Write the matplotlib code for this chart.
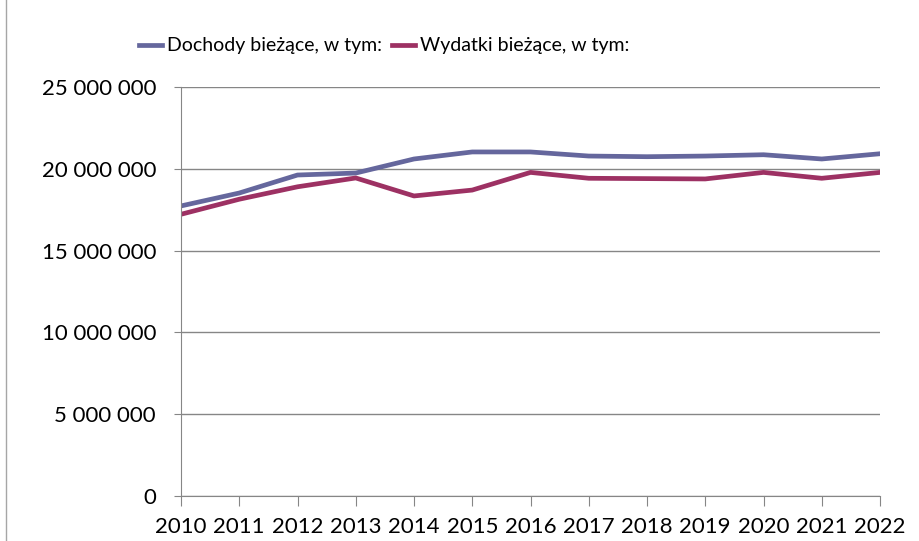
import matplotlib.pyplot as plt
from matplotlib.ticker import FuncFormatter
from matplotlib.lines import Line2D

years = list(range(2010, 2023))
dochody = [17.73, 18.52, 19.62, 19.74, 20.60, 21.03, 21.03,
           20.78, 20.74, 20.78, 20.86, 20.60, 20.92]
wydatki = [17.22, 18.14, 18.90, 19.44, 18.34, 18.70, 19.78,
           19.42, 19.40, 19.38, 19.78, 19.42, 19.78]
labels = ['Dochody bieżące, w tym:', 'Wydatki bieżące, w tym:']

plt.rcParams['font.family'] = ['Lato', 'DejaVu Sans']

fig = plt.figure(figsize=(9.19, 5.41), dpi=100)
ax = fig.add_axes([181 / 919, 45 / 541, 699 / 919, 409 / 541])

ax.plot(years, [v * 1e6 for v in dochody], color='#65679d', lw=3.4,
        label=labels[0], solid_joinstyle='round')
ax.plot(years, [v * 1e6 for v in wydatki], color='#9d3163', lw=3.4,
        label=labels[1], solid_joinstyle='round')

ax.set_xlim(2010, 2022)
ax.set_ylim(0, 25e6)
ax.set_xticks(years)
ax.set_yticks(range(0, 25000001, 5000000))
ax.yaxis.set_major_formatter(
    FuncFormatter(lambda v, p: f'{int(v):,}'.replace(',', ' ')))

ax.grid(axis='y', color='#868686', lw=1)
ax.set_axisbelow(True)
for s in ['top', 'right']:
    ax.spines[s].set_visible(False)
for s in ['left', 'bottom']:
    ax.spines[s].set_color('#868686')
ax.tick_params(axis='y', length=5, color='#868686', labelsize=16, pad=13)
ax.tick_params(axis='x', length=7, color='#868686', labelsize=16, pad=8)

# left edge border
fig.add_artist(Line2D([5.5 / 919, 5.5 / 919], [0, 1], color='#a6a6a6', lw=1))

fig.legend(loc='center', bbox_to_anchor=(384 / 919, 1 - 46 / 541), ncol=2,
           frameon=False, fontsize=14, handlelength=1.2, handletextpad=0.25,
           columnspacing=0.5)

fig.savefig('out.png', dpi=100)
